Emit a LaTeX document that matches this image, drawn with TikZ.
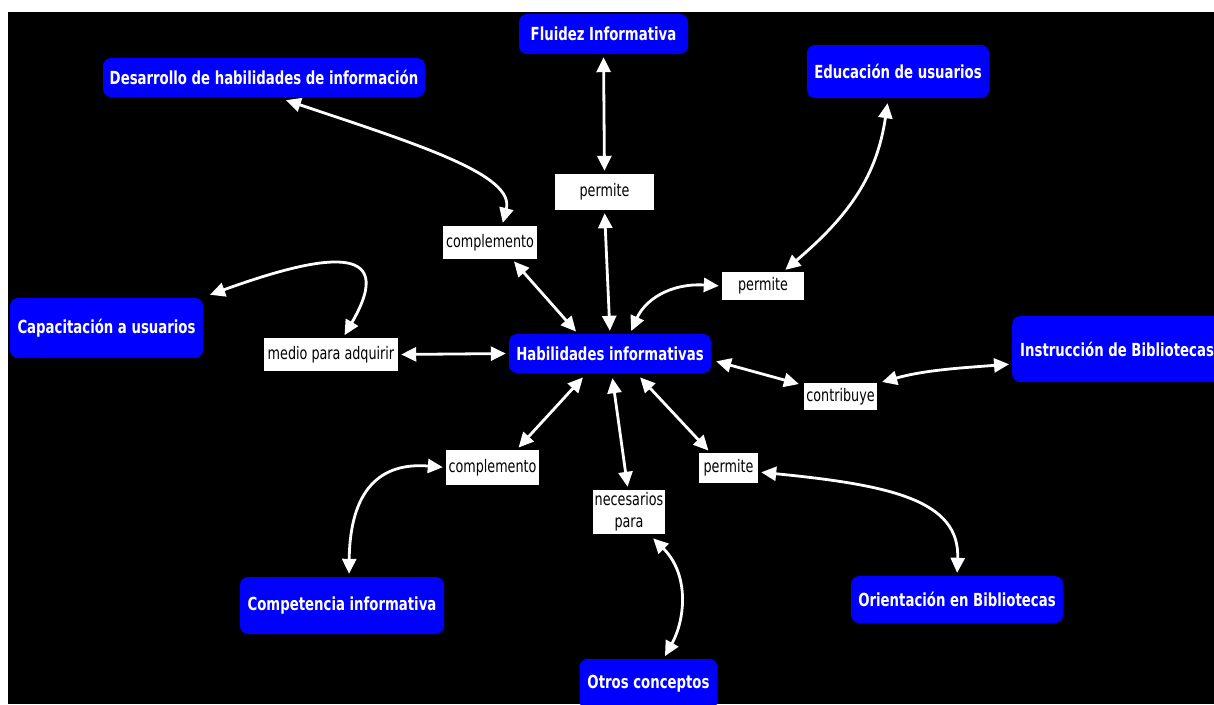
\documentclass[tikz,border=0pt]{standalone}
\usepackage{fontspec}
\setmainfont[FakeStretch=0.82]{DejaVu Sans Condensed}
\usetikzlibrary{arrows.meta,calc}
\begin{document}
\begin{tikzpicture}[x=1pt,y=-1pt,
  concept/.style={fill=blue, text=white, rounded corners=8pt, inner sep=0pt,
    font=\fontsize{18}{20}\selectfont\bfseries},
  linkbox/.style={fill=white, text=black, inner sep=0pt,
    font=\fontsize{17.3}{22}\selectfont, align=center},
  conn/.style={draw=white, line width=2.8pt, {Triangle[length=15pt,width=14pt]}-{Triangle[length=15pt,width=14pt]},
    shorten <=3pt, shorten >=3pt}]
\useasboundingbox (0,0) rectangle (1214,704);
\fill[white] (0,0) rectangle (1214,704);
\fill[black] (8,12) rectangle (1214,704);
% concepts
\node[concept, minimum width=169, minimum height=40] (flu) at (603.5,34) {Fluidez Informativa};
\node[concept, minimum width=322, minimum height=39] (desa) at (264,77.5) {Desarrollo de habilidades de información};
\node[concept, minimum width=182, minimum height=53] (edu) at (898,71.5) {Educación de usuarios};
\node[concept, minimum width=193, minimum height=60] (cap) at (106.5,328) {Capacitación a usuarios};
\node[concept, minimum width=202, minimum height=39] (hab) at (610,353.5) {Habilidades informativas};
\node[concept, minimum height=66, inner xsep=8pt, anchor=west] (ins) at (1012,349) {Instrucción de Bibliotecas};
\node[concept, minimum width=204, minimum height=57] (comp) at (342,605.5) {Competencia informativa};
\node[concept, minimum width=212, minimum height=47] (ori) at (957,599.5) {Orientación en Bibliotecas};
\node[concept, minimum width=138, minimum height=50] (otros) at (648.5,684) {Otros conceptos};
% linking phrases
\node[linkbox, minimum width=99, minimum height=36] (p1) at (604.5,192) {permite};
\node[linkbox, minimum width=94, minimum height=33] (c1) at (490,242.5) {complemento};
\node[linkbox, minimum width=82, minimum height=28] (p2) at (763,286) {permite};
\node[linkbox, minimum width=134, minimum height=33] (medio) at (331,354.5) {medio para adquirir};
\node[linkbox, minimum width=73, minimum height=27] (contrib) at (840.5,396.5) {contribuye};
\node[linkbox, minimum width=93, minimum height=35] (c2) at (492.5,467.5) {complemento};
\node[linkbox, minimum width=59, minimum height=30] (p3) at (728.5,468) {permite};
\node[linkbox, minimum width=72, minimum height=44] (nec) at (629,512) {necesarios\\para};
% connectors
\draw[conn] (flu.south) -- (p1.north);
\draw[conn] (p1.south) -- (hab.north);
\draw[conn] ($(desa.south)+(19,2)$) .. controls (420,145) and (515,175) .. ($(c1.north)+(12,0)$);
\draw[conn] ($(c1.south)+(22,0)$) -- ($(hab.north)+(-32,0)$);
\draw[conn] ($(cap.north east)+(4,-2)$) .. controls (320,255) and (400,240) .. ($(medio.north)+(12,0)$);
\draw[conn] (medio.east) -- (hab.west);
\draw[conn] ($(edu.south)+(-10,2)$) .. controls (877,175) and (850,215) .. ($(p2.north)+(20,0)$);
\draw[conn] (p2.west) .. controls (670,283) and (645,300) .. ($(hab.north)+(20,0)$);
\draw[conn] ($(hab.east)+(2,7)$) -- ($(contrib.north west)+(-2,2)$);
\draw[conn] ($(contrib.north east)+(2,0)$) .. controls (925,370) and (960,368) .. ($(ins.west)+(0,15)$);
\draw[conn] ($(hab.south)+(-25,2)$) -- ($(c2.north)+(24,0)$);
\draw[conn] ($(hab.south)+(2,2)$) -- ($(nec.north)+(-1,0)$);
\draw[conn] ($(hab.south)+(28,2)$) -- ($(p3.north)+(-18,0)$);
\draw[conn] (c2.west) .. controls (380,462) and (350,490) .. ($(comp.north)+(7,0)$);
\draw[conn] ($(p3.east)+(0,4)$) .. controls (890,485) and (960,500) .. (ori.north);
\draw[conn] ($(nec.south)+(22,2)$) .. controls (690,575) and (685,620) .. ($(otros.north)+(15,0)$);
\end{tikzpicture}
\end{document}
